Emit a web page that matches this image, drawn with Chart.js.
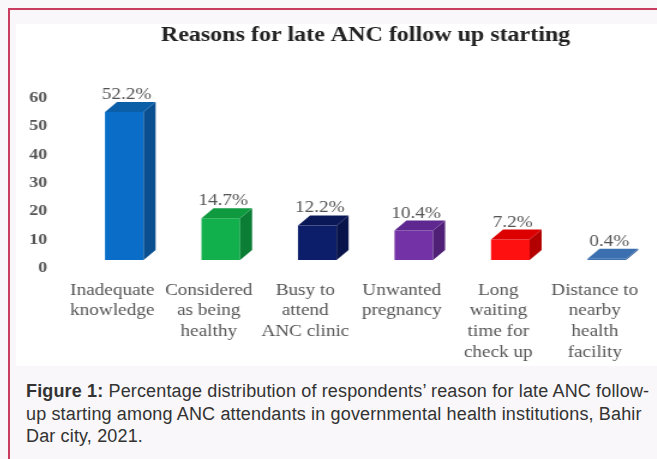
<!DOCTYPE html>
<html>
<head>
<meta charset="utf-8">
<script src="https://cdn.jsdelivr.net/npm/chart.js@4.4.0/dist/chart.umd.min.js"></script>
<style>
  body { margin: 0; width: 657px; height: 459px; overflow: hidden; background: #f9f7f9; position: relative; }
  #frame { position: absolute; left: 8px; top: 8px; width: 700px; height: 500px;
           border-left: 2px solid #c93b5f; border-top: 2px solid #c93b5f; }
  #panel { position: absolute; left: 16px; top: 24px; width: 660px; height: 342px; background: #fff; overflow: hidden; }
  /* the original figure is stretched sideways, so the canvas is too */
  #wrap { width: 550px; height: 342px; transform: scaleX(1.2); transform-origin: 0 0; }
  #caption { position: absolute; left: 26px; top: 380px; font: 18px "Liberation Sans", Arial, sans-serif;
             color: #333; line-height: 22.5px; white-space: nowrap; letter-spacing: 0.15px; }
</style>
</head>
<body>
<div id="frame"></div>
<div id="panel"><div id="wrap"><canvas id="myChart"></canvas></div></div>
<div id="caption"><b>Figure 1:</b> Percentage distribution of respondents’ reason for late ANC follow-<br>up starting among ANC attendants in governmental health institutions, Bahir<br>Dar city, 2021.</div>

<script>
let categories = [
  ["Inadequate", "knowledge"],
  ["Considered", "as being", "healthy"],
  ["Busy to", "attend", "ANC clinic"],
  ["Unwanted", "pregnancy"],
  ["Long", "waiting", "time for", "check up"],
  ["Distance to", "nearby", "health", "facility"]
];
let percentages = [52.2, 14.7, 12.2, 10.4, 7.2, 0.4];
let yTicks = [0, 10, 20, 30, 40, 50, 60];

let frontColor = ["#0a6ec8", "#12b04c", "#0c1e6a", "#7332a6", "#ff1010", "#3b6fb0"];
let sideColor  = ["#0a4f8f", "#0b7d34", "#08144a", "#4f2075", "#b30000", "#2c5590"];
let topColor   = ["#0b5fa8", "#0f9a40", "#0a1858", "#5f2890", "#dd0000", "#3b6fb0"];

const serif = "'Liberation Serif', 'Times New Roman', serif";
const depthX = 10;
const depthY = 10;

// side and top faces of the boxes + the percent labels
const boxes = {
  id: "boxes",
  afterDatasetsDraw(chart) {
    let ctx = chart.ctx;
    let meta = chart.getDatasetMeta(0);
    meta.data.forEach((bar, i) => {
      let l = bar.x - bar.width / 2;
      let r = bar.x + bar.width / 2;
      let t = bar.y;
      let b = bar.base;
      ctx.save();
      ctx.fillStyle = sideColor[i];
      ctx.beginPath();
      ctx.moveTo(r, b);
      ctx.lineTo(r + depthX, b - depthY);
      ctx.lineTo(r + depthX, t - depthY);
      ctx.lineTo(r, t);
      ctx.closePath();
      ctx.fill();
      ctx.fillStyle = topColor[i];
      ctx.beginPath();
      ctx.moveTo(l, t);
      ctx.lineTo(l + depthX, t - depthY);
      ctx.lineTo(r + depthX, t - depthY);
      ctx.lineTo(r, t);
      ctx.closePath();
      ctx.fill();

      ctx.fillStyle = "#555";
      ctx.font = "16px " + serif;
      ctx.textAlign = "center";
      ctx.textBaseline = "alphabetic";
      ctx.fillText(percentages[i].toFixed(1) + "%", bar.x + 2, t - depthY - 3);
      ctx.restore();
    });
  }
};

const config = {
  type: "bar",
  data: {
    labels: categories,
    datasets: [{
      data: percentages,
      backgroundColor: frontColor,
      barPercentage: 0.4,
      categoryPercentage: 1
    }]
  },
  options: {
    responsive: true,
    maintainAspectRatio: false,
    animation: false,
    layout: { padding: { left: 0, right: 3, top: 0, bottom: 2 } },
    plugins: {
      legend: { display: false },
      tooltip: { enabled: false },
      title: {
        display: true,
        fullSize: false,
        text: "Reasons for late ANC follow up starting",
        color: "#222",
        font: { family: serif, size: 20, weight: "bold" },
        padding: { top: 0, bottom: 42 }
      }
    },
    scales: {
      x: {
        grid: { display: false, drawTicks: false },
        border: { display: false },
        ticks: {
          color: "#555",
          font: { family: serif, size: 16, lineHeight: 1.3 },
          padding: 20,
          labelOffset: -10,
          maxRotation: 0,
          autoSkip: false
        },
        afterFit(scale) { scale.height = 104; }
      },
      y: {
        min: yTicks[0],
        max: yTicks[yTicks.length - 1],
        grid: { display: false, drawTicks: false },
        border: { display: false },
        ticks: {
          stepSize: yTicks[1] - yTicks[0],
          color: "#555",
          font: { family: serif, size: 15, weight: "bold" },
          padding: 24,
          labelOffset: 8
        },
        afterFit(scale) { scale.width = 50; }
      }
    }
  },
  plugins: [boxes]
};

const myChart = new Chart(document.getElementById("myChart"), config);
</script>
</body>
</html>
